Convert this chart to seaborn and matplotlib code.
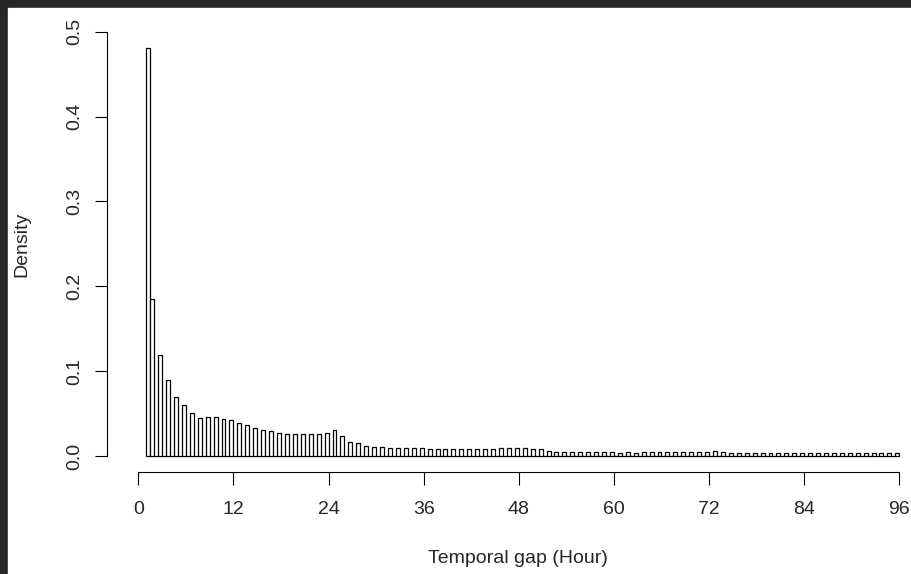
import numpy as np
import pandas as pd
import seaborn as sns
import matplotlib.pyplot as plt
from matplotlib.patches import Rectangle

### values (one bar per whole hour, density)
hours = np.arange(1, 97)
density = [
    0.481, 0.185, 0.119, 0.090, 0.070, 0.060, 0.051, 0.045, 0.046, 0.046,
    0.044, 0.042, 0.039, 0.036, 0.033, 0.031, 0.029, 0.027, 0.026, 0.026,
    0.026, 0.026, 0.026, 0.027, 0.031, 0.023, 0.017, 0.015, 0.012, 0.011,
    0.011, 0.009, 0.009, 0.009, 0.009, 0.009, 0.008, 0.008, 0.008, 0.008,
    0.008, 0.008, 0.008, 0.008, 0.008, 0.009, 0.009, 0.009, 0.010, 0.008,
    0.008, 0.006, 0.005, 0.005, 0.005, 0.005, 0.005, 0.005, 0.005, 0.005,
    0.0035, 0.0045, 0.0035, 0.0045, 0.0045, 0.0045, 0.0045, 0.0045, 0.0045, 0.0045,
    0.0045, 0.005, 0.006, 0.0045, 0.0035, 0.0035, 0.0035, 0.0035, 0.0035, 0.0035,
    0.0035, 0.0035, 0.0035, 0.0035, 0.0035, 0.0035, 0.0035, 0.0035, 0.0035, 0.0035,
    0.0035, 0.0035, 0.0035, 0.0035, 0.0035, 0.0035,
]
x_ticks = [0, 12, 24, 36, 48, 60, 72, 84, 96]
y_ticks = [0.0, 0.1, 0.2, 0.3, 0.4, 0.5]
y_tick_labels = ["0.0", "0.1", "0.2", "0.3", "0.4", "0.5"]

df = pd.DataFrame({"hour": hours, "density": density})
# R's hist() uses right-closed bins of 0.5 h: hour k lands in (k-0.5, k], hour 1 in [1, 1.5]
df["pos"] = np.maximum(df["hour"] - 0.25, 1.25)
breaks = [1 + 0.5 * i for i in range(191)]

### Graph
sns.set_style("ticks")
plt.rcParams["font.family"] = ["Liberation Sans", "DejaVu Sans"]

W, H = 912, 574
fig = plt.figure(figsize=(W / 100, H / 100), dpi=100)
# dark frame of the screenshot on the top / left edges
fig.patches.append(Rectangle((0, 0), 1, 1, transform=fig.transFigure,
                             color="#262626", zorder=-10))
fig.patches.append(Rectangle((8 / W, 0), 1, (H - 8) / H, transform=fig.transFigure,
                             color="white", zorder=-9))

ax = fig.add_axes([107.3 / W, (H - 472) / H, 804.7 / W, 458 / H])
ax.set_facecolor("none")

sns.histplot(
    data=df, x="pos", weights="density", bins=breaks, stat="count",
    color="white", edgecolor="black", linewidth=0.9, alpha=1, ax=ax,
)

ax.set_xlim(-3.91, 97.6)
ax.set_ylim(-0.01885, 0.5209)
for s in ["top", "right"]:
    ax.spines[s].set_visible(False)
ax.spines["bottom"].set_bounds(0, 96)
ax.spines["left"].set_bounds(0, 0.5)
for s in ["bottom", "left"]:
    ax.spines[s].set_linewidth(0.8)
    ax.spines[s].set_color("black")

ax.set_xticks(x_ticks)
ax.set_yticks(y_ticks)
ax.set_yticklabels(y_tick_labels)
ax.tick_params(axis="x", length=9.4, width=0.8, pad=11.3, labelsize=14, color="black")
ax.tick_params(axis="y", length=8.6, width=0.8, pad=8.6, labelsize=14, color="black",
               labelrotation=90)
for t in ax.get_yticklabels():
    t.set_va("center")

ax.set_xlabel("Temporal gap (Hour)", fontsize=14)
ax.set_ylabel("Density", fontsize=14)
ax.xaxis.label.set_va("center")
ax.yaxis.label.set_va("center")
ax.xaxis.set_label_coords(0.5108, -0.1885)
ax.yaxis.set_label_coords(-0.1058, 0.4978)

fig.savefig("out.png", dpi=100)
